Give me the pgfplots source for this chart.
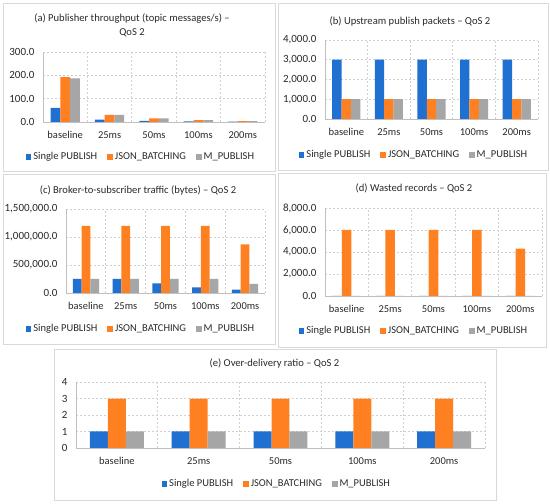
\documentclass[border=0pt]{standalone}
\usepackage{fontspec}
\setmainfont{Carlito}
\usepackage{pgfplots}
\pgfplotsset{compat=1.18}
\definecolor{cblue}{HTML}{1F70D0}
\definecolor{corange}{HTML}{FF8021}
\definecolor{cgray}{HTML}{A6A6A6}
\definecolor{ctext}{HTML}{2A2A2A}
\definecolor{cgrid}{HTML}{D0D0D0}
\definecolor{caxis}{HTML}{BFBFBF}
\definecolor{cframe}{HTML}{D9D9D9}
\pgfplotsset{
  panel/.style={
    scale only axis,
    xmin=-0.5, xmax=4.5,
    xtick={0,1,2,3,4},
    xticklabels={baseline,25ms,50ms,100ms,200ms},
    minor xtick={0.5,1.5,2.5,3.5,4.5},
    xminorgrids=true, ymajorgrids=true, xmajorgrids=false,
    major grid style={cgrid, dash pattern=on 2pt off 2pt, line width=0.6pt},
    minor grid style={cgrid, dash pattern=on 2pt off 2pt, line width=0.6pt},
    axis x line*=bottom, axis y line*=left,
    axis line style={draw=caxis, line width=0.8pt, -},
    major tick length=0pt, minor tick length=0pt,
    ymin=0,
    ybar=0pt, bar width=0.22,
    /pgf/number format/assume math mode=true,
    xticklabel style={font=\fontsize{10.5}{12}\selectfont, text=ctext, yshift=-6pt},
    yticklabel style={font=\fontsize{11}{13}\selectfont, text=ctext, xshift=-5pt,
      /pgf/number format/.cd, fixed, fixed zerofill, precision=1, 1000 sep={,}},
    scaled y ticks=false,
    legend columns=3,
    legend style={draw=none, fill=none, font=\fontsize{10.5}{12}\selectfont, text=ctext,
      /tikz/every even column/.append style={column sep=8pt}, anchor=center},
    legend image code/.code={\fill[##1] (0pt,-2.8pt) rectangle (5.6pt,2.8pt);},
    clip=false,
  },
  sp/.style={fill=cblue, draw=none, bar shift=-0.22},
  jb/.style={fill=corange, draw=none, bar shift=0},
  mp/.style={fill=cgray, draw=none, bar shift=0.22},
}
\begin{document}
\begin{tikzpicture}[x=1pt,y=1pt]
\fill[white] (0,0) rectangle (550,504);
% frames
\draw[cframe, line width=0.8pt] (3,333) rectangle (275,501);
\draw[cframe, line width=0.8pt] (278,334) rectangle (548,501);
\draw[cframe, line width=0.8pt] (3,160) rectangle (275,330);
\draw[cframe, line width=0.8pt] (278,157) rectangle (546,331);
\draw[cframe, line width=0.8pt] (54,4) rectangle (496,155);
% titles
\node[text=ctext, font=\fontsize{10.6}{14}\selectfont, align=center] at (132,479) {(a) Publisher throughput (topic messages/s) –\\QoS 2};
\node[text=ctext, font=\fontsize{10.6}{14}\selectfont] at (410,483) {(b) Upstream publish packets – QoS 2};
\node[text=ctext, font=\fontsize{10.6}{14}\selectfont] at (138,314) {(c) Broker-to-subscriber traffic (bytes) – QoS 2};
\node[text=ctext, font=\fontsize{10.6}{14}\selectfont] at (414,316) {(d) Wasted records – QoS 2};
\node[text=ctext, font=\fontsize{10.6}{14}\selectfont] at (274.5,141) {(e) Over-delivery ratio – QoS 2};

% (a)
\begin{axis}[panel, at={(43pt,382pt)}, anchor=south west, width=222pt, height=70pt,
  ymax=300, ytick={0,100,200,300},
  legend style={at={(0.441,-0.5)}}]
\addplot[sp] coordinates {(0,61) (1,10) (2,5) (3,2.5) (4,1.3)};
\addplot[jb] coordinates {(0,192) (1,30) (2,15) (3,8) (4,4)};
\addplot[mp] coordinates {(0,187) (1,30) (2,15) (3,8) (4,4)};
\legend{Single PUBLISH, JSON\_BATCHING, M\_PUBLISH}
\end{axis}

% (b)
\begin{axis}[panel, at={(325pt,385pt)}, anchor=south west, width=213pt, height=79pt,
  ymax=4000, ytick={0,1000,2000,3000,4000},
  legend style={at={(0.418,-0.456)}}]
\addplot[sp] coordinates {(0,3000) (1,3000) (2,3000) (3,3000) (4,3000)};
\addplot[jb] coordinates {(0,1000) (1,1000) (2,1000) (3,1000) (4,1000)};
\addplot[mp] coordinates {(0,1000) (1,1000) (2,1000) (3,1000) (4,1000)};
\legend{Single PUBLISH, JSON\_BATCHING, M\_PUBLISH}
\end{axis}

% (c)
\begin{axis}[panel, at={(66pt,211pt)}, anchor=south west, width=199pt, height=84pt,
  ymax=1500000, ytick={0,500000,1000000,1500000},
  legend style={at={(0.377,-0.429)}}]
\addplot[sp] coordinates {(0,250000) (1,250000) (2,170000) (3,100000) (4,60000)};
\addplot[jb] coordinates {(0,1200000) (1,1200000) (2,1200000) (3,1200000) (4,870000)};
\addplot[mp] coordinates {(0,250000) (1,250000) (2,250000) (3,250000) (4,165000)};
\legend{Single PUBLISH, JSON\_BATCHING, M\_PUBLISH}
\end{axis}

% (d)
\begin{axis}[panel, at={(325pt,208pt)}, anchor=south west, width=217pt, height=88pt,
  ymax=8000, ytick={0,2000,4000,6000,8000},
  legend style={at={(0.41,-0.398)}}]
\addplot[sp] coordinates {(0,0) (1,0) (2,0) (3,0) (4,0)};
\addplot[jb] coordinates {(0,6000) (1,6000) (2,6000) (3,6000) (4,4300)};
\addplot[mp] coordinates {(0,0) (1,0) (2,0) (3,0) (4,0)};
\legend{Single PUBLISH, JSON\_BATCHING, M\_PUBLISH}
\end{axis}

% (e)
\begin{axis}[panel, at={(76pt,56pt)}, anchor=south west, width=409pt, height=66pt,
  ymax=4, ytick={0,1,2,3,4},
  yticklabel style={/pgf/number format/.cd, fixed, precision=0, zerofill=false},
  legend style={at={(0.491,-0.545)}}]
\addplot[sp] coordinates {(0,1) (1,1) (2,1) (3,1) (4,1)};
\addplot[jb] coordinates {(0,3) (1,3) (2,3) (3,3) (4,3)};
\addplot[mp] coordinates {(0,1) (1,1) (2,1) (3,1) (4,1)};
\legend{Single PUBLISH, JSON\_BATCHING, M\_PUBLISH}
\end{axis}
\end{tikzpicture}
\end{document}
